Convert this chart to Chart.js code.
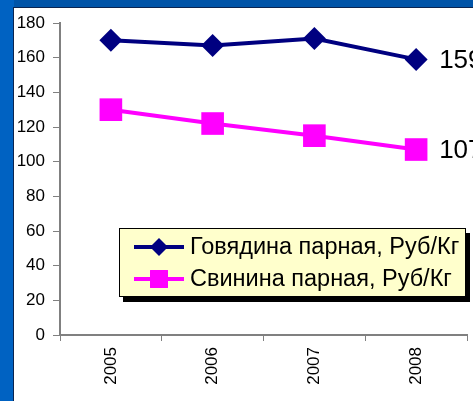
<!DOCTYPE html>
<html><head><meta charset="utf-8">
<script src="https://cdn.jsdelivr.net/npm/chart.js@4/dist/chart.umd.min.js"></script>
<style>html,body{margin:0;padding:0;overflow:hidden;background:#fff}#wrap{width:473px;height:401px;position:relative}</style>
</head><body><div id="wrap"><canvas id="c" width="473" height="401"></canvas></div>
<script>
const years = ['2005', '2006', '2007', '2008'];
const beefValues = [170, 167, 171, 159];
const porkValues = [130, 122, 115, 107];
const seriesNames = ['Говядина парная, Руб/Кг', 'Свинина парная, Руб/Кг'];
const yMin = 0, yMax = 180, yStep = 20;

const FONT = '"Liberation Sans", Arial, sans-serif';

const framePlugin = {
  id: 'frame',
  beforeDraw(chart) {
    const ctx = chart.ctx;
    ctx.save();
    ctx.fillStyle = '#0062C2';
    ctx.fillRect(0, 0, 14, chart.height);
    ctx.fillStyle = '#0054A8';
    ctx.fillRect(14, 0, chart.width, 7);
    ctx.fillStyle = '#ffffff';
    ctx.fillRect(14, 8, chart.width - 14, chart.height - 8);
    ctx.fillStyle = '#0a2450';
    ctx.fillRect(13, 7, chart.width, 1);
    ctx.fillRect(13, 7, 1, chart.height);
    ctx.restore();
  }
};

function drawMarker(ctx, style, x, y, r, color) {
  ctx.fillStyle = color;
  ctx.beginPath();
  if (style === 'rectRot') {
    ctx.moveTo(x - r, y); ctx.lineTo(x, y - r); ctx.lineTo(x + r, y); ctx.lineTo(x, y + r);
  } else {
    const s = r * Math.SQRT1_2;
    ctx.rect(x - s, y - s, 2 * s, 2 * s);
  }
  ctx.closePath();
  ctx.fill();
}

const labelsPlugin = {
  id: 'endLabels',
  afterDatasetsDraw(chart) {
    const ctx = chart.ctx;
    ctx.save();
    ctx.font = '26px ' + FONT;
    ctx.fillStyle = '#000';
    ctx.textBaseline = 'middle';
    ctx.textAlign = 'left';
    chart.data.datasets.forEach((ds, i) => {
      const meta = chart.getDatasetMeta(i);
      const last = meta.data.length - 1;
      const pt = meta.data[last];
      ctx.fillText(String(ds.data[last]), pt.x + 23, pt.y + 1);
    });
    ctx.restore();
  }
};

const legendPlugin = {
  id: 'boxLegend',
  afterDraw(chart) {
    const ctx = chart.ctx;
    const bx = 119, by = 228, bw = 347, bh = 69;
    ctx.save();
    ctx.fillStyle = '#000';
    ctx.fillRect(bx + 4, by + 5, bw, bh);
    ctx.fillStyle = '#FFFFCC';
    ctx.fillRect(bx, by, bw, bh);
    ctx.strokeStyle = '#000';
    ctx.lineWidth = 1;
    ctx.strokeRect(bx + 0.5, by + 0.5, bw - 1, bh - 1);
    ctx.font = '23.5px ' + FONT;
    ctx.textBaseline = 'middle';
    ctx.textAlign = 'left';
    chart.data.datasets.forEach((ds, i) => {
      const cy = 247 + i * 32;
      ctx.strokeStyle = ds.borderColor;
      ctx.lineWidth = 4;
      ctx.beginPath();
      ctx.moveTo(134, cy); ctx.lineTo(184, cy);
      ctx.stroke();
      drawMarker(ctx, ds.pointStyle, 159, cy, ds.pointStyle === 'rectRot' ? 9 : 12.7, ds.borderColor);
      ctx.fillStyle = '#000';
      ctx.fillText(ds.label, 190, cy + 1);
    });
    ctx.restore();
  }
};

new Chart(document.getElementById('c'), {
  type: 'line',
  data: {
    labels: years,
    datasets: [
      {
        label: seriesNames[0], data: beefValues,
        borderColor: '#000080', backgroundColor: '#000080',
        borderWidth: 4, pointStyle: 'rectRot', pointRadius: 11.5,
        pointBorderWidth: 0, pointHoverRadius: 11.5, tension: 0
      },
      {
        label: seriesNames[1], data: porkValues,
        borderColor: '#FF00FF', backgroundColor: '#FF00FF',
        borderWidth: 4, pointStyle: 'rect', pointRadius: 16,
        pointBorderWidth: 0, pointHoverRadius: 16, tension: 0
      }
    ]
  },
  options: {
    responsive: false,
    animation: false,
    events: [],
    layout: { autoPadding: false, padding: { left: 0, top: 23, right: 6, bottom: 0 } },
    plugins: { legend: { display: false }, tooltip: { enabled: false } },
    scales: {
      x: {
        type: 'category',
        offset: true,
        grid: { offset: true, drawOnChartArea: false, drawTicks: true, tickLength: 6, color: '#808080', lineWidth: 1 },
        border: { color: '#808080', width: 2 },
        ticks: { minRotation: 90, maxRotation: 90, padding: 6, color: '#000', font: { family: FONT, size: 17 } },
        afterFit(s) { s.height = 66; s.paddingLeft = 0; s.paddingRight = 0; }
      },
      y: {
        min: yMin, max: yMax,
        grid: { drawOnChartArea: false, drawTicks: true, tickLength: 7, color: '#808080' },
        border: { color: '#808080', width: 2 },
        ticks: { stepSize: yStep, padding: 8, color: '#000', font: { family: FONT, size: 17 } },
        afterFit(s) { s.width = 60; s.paddingTop = 0; s.paddingBottom = 0; }
      }
    }
  },
  plugins: [framePlugin, labelsPlugin, legendPlugin]
});
</script></body></html>
